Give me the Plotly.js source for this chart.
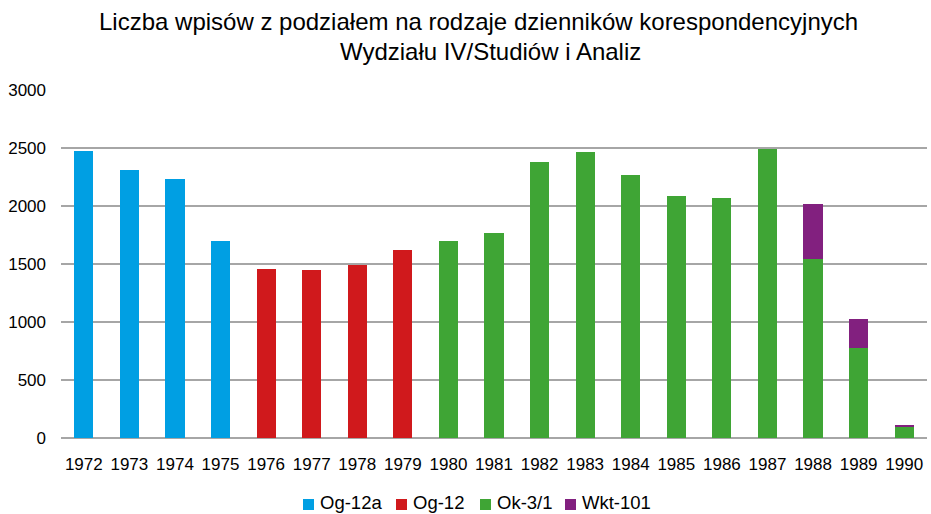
<!DOCTYPE html>
<html>
<head>
<meta charset="utf-8">
<script src="https://cdn.plot.ly/plotly-3.0.1.min.js"></script>
<style>html,body{margin:0;padding:0;background:#fff;}#chart{width:931px;height:514px;}</style>
</head>
<body>
<div id="chart"></div>
<script>
var years = ["1972","1973","1974","1975","1976","1977","1978","1979","1980","1981","1982","1983","1984","1985","1986","1987","1988","1989","1990"];
var og12a = [2475, 2310, 2230, 1695, 0, 0, 0, 0, 0, 0, 0, 0, 0, 0, 0, 0, 0, 0, 0];
var og12  = [0, 0, 0, 0, 1460, 1450, 1490, 1625, 0, 0, 0, 0, 0, 0, 0, 0, 0, 0, 0];
var ok31  = [0, 0, 0, 0, 0, 0, 0, 0, 1700, 1770, 2380, 2468, 2268, 2085, 2067, 2495, 1545, 778, 95];
var wkt101 = [0, 0, 0, 0, 0, 0, 0, 0, 0, 0, 0, 0, 0, 0, 0, 0, 470, 252, 18];
var seriesNames = ["Og-12a", "Og-12", "Ok-3/1", "Wkt-101"];
var colors = ["#009FE3", "#D0191C", "#3FA535", "#82207F"];
var values = [og12a, og12, ok31, wkt101];
var titleLines = ["Liczba wpisów z podziałem na rodzaje dzienników korespondencyjnych", "Wydziału IV/Studiów i Analiz"];

var font = "Liberation Sans, Arial, sans-serif";
var W = 931, H = 514, ML = 61, MR = 4, MT = 90, MB = 76;
var PW = W - ML - MR, PH = H - MT - MB;
function px2x(px){ return (px - ML) / PW; }
function py2y(py){ return (H - MB - py) / PH; }

var traces = values.map(function(v, i){
  return {type: "bar", x: years, y: v, name: seriesNames[i],
          marker: {color: colors[i], line: {width: 0}}, hoverinfo: "x+y+name"};
});

// custom legend (layout only)
var legendLeft = [303, 396, 480, 565];
var shapes = [], annotations = [];
seriesNames.forEach(function(n, i){
  shapes.push({type: "rect", xref: "paper", yref: "paper",
    x0: px2x(legendLeft[i]), x1: px2x(legendLeft[i] + 11),
    y0: py2y(510), y1: py2y(499), fillcolor: colors[i], line: {width: 0}});
  annotations.push({text: n, xref: "paper", yref: "paper", x: px2x(legendLeft[i] + 15), y: py2y(503),
    xanchor: "left", yanchor: "middle", showarrow: false, font: {family: font, size: 18.5, color: "#000"}});
});
annotations.push({text: titleLines[0], xref: "paper", yref: "paper", x: px2x(478), y: py2y(22),
  xanchor: "center", yanchor: "middle", showarrow: false, font: {family: font, size: 24, color: "#000"}});
annotations.push({text: titleLines[1], xref: "paper", yref: "paper", x: px2x(490), y: py2y(51),
  xanchor: "center", yanchor: "middle", showarrow: false, font: {family: font, size: 24, color: "#000"}});

var layout = {
  width: W, height: H,
  paper_bgcolor: "#fff", plot_bgcolor: "#fff",
  barmode: "stack", bargap: 0.58,
  margin: {l: ML, r: MR, t: MT, b: MB, autoexpand: false},
  font: {family: font, color: "#000", size: 17},
  shapes: shapes,
  annotations: annotations,
  xaxis: {type: "category", showgrid: false, zeroline: false, showline: false, automargin: false,
          ticks: "", ticklabelstandoff: 14, tickfont: {family: font, size: 17, color: "#000"}},
  yaxis: {range: [0, 3000], dtick: 500, showgrid: true, gridcolor: "#A6A6A6", gridwidth: 2, automargin: false,
          zeroline: true, zerolinecolor: "#A6A6A6", zerolinewidth: 2, showline: false,
          ticks: "", ticklabelstandoff: 14, tickfont: {family: font, size: 17, color: "#000"}},
  showlegend: false
};
Plotly.newPlot("chart", traces, layout, {displayModeBar: false, staticPlot: true});
</script>
</body>
</html>
